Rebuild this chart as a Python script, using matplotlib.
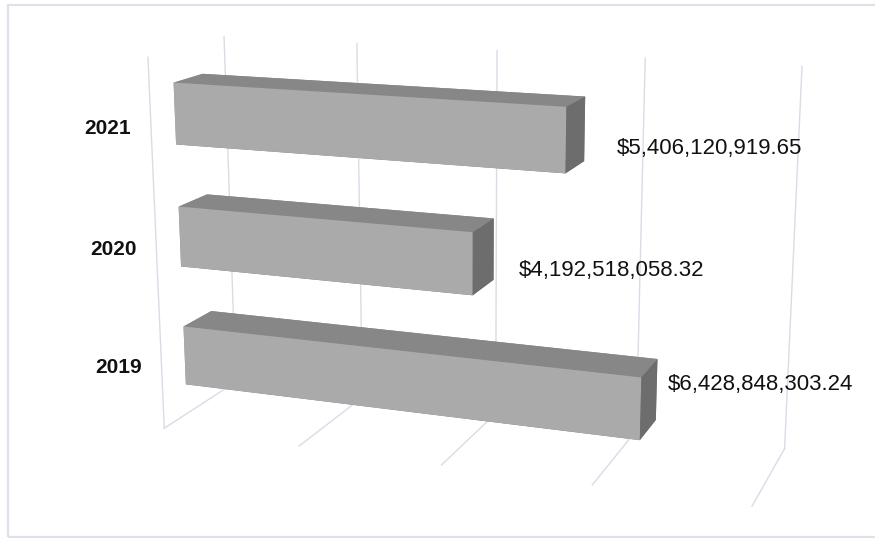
import numpy as np
import matplotlib
matplotlib.use("Agg")
import matplotlib.pyplot as plt
from matplotlib.patches import Rectangle
from matplotlib.transforms import offset_copy

years = ["2019", "2020", "2021"]
amounts = [6428848303.24, 4192518058.32, 5406120919.65]
amount_labels = ["$6,428,848,303.24", "$4,192,518,058.32", "$5,406,120,919.65"]
value_ticks = [0, 2e9, 4e9, 6e9, 8e9]

# camera / box setup for the 3-D bar look
ELEV, AZIM, FOCAL = 14.47, -69.92, 0.3231
BOX = (1, 0.2617, 0.6282)
ZOOM = 0.6918
BAR_FRONT, BAR_BACK, BAR_HALF = 0.303, 0.686, 0.2473

# pixel nudges for the labels (dx, dy)
value_shift = [(27, 19), (46, -12), (51, -14)]
year_shift = [(-20, -4), (-20, -7), (-20, -12)]

grid_col = "#d8dce7"

fig = plt.figure(figsize=(8.75, 5.38), dpi=100)
ax = fig.add_subplot(projection="3d", computed_zorder=False)
ax.set_position([-0.0795, -0.4803, 1.2, 1.96])
ax.set_xlim(0, 8e9)
ax.set_ylim(0, 1)
ax.set_zlim(0, 3)
ax.view_init(ELEV, AZIM)
ax.set_proj_type("persp", focal_length=FOCAL)
ax.set_box_aspect(BOX, zoom=ZOOM)
ax.set_axis_off()

# gridlines on the back wall and the floor
for v in value_ticks:
    ax.plot([v, v], [1, 1], [0, 3], color=grid_col, lw=1, zorder=1)
    ax.plot([v, v], [0, 1], [0, 0], color=grid_col, lw=1, zorder=1)
ax.plot([0, 0], [0, 0], [0, 3], color=grid_col, lw=1, zorder=1)

n = len(amounts)
pos = np.arange(n) + 0.5
# faces: bottom, top, front, back, left, right
face = ["#7a7a7a", "#878787", "#aaaaaa", "#8a8a8a", "#9a9a9a", "#6d6d6d"]
ax.bar3d(np.zeros(n), np.full(n, BAR_FRONT), pos - BAR_HALF, amounts,
         np.full(n, BAR_BACK - BAR_FRONT), np.full(n, 2 * BAR_HALF),
         color=face * n, shade=False, zorder=3)

for i in range(n):
    dx, dy = value_shift[i]
    tr = offset_copy(ax.transData, fig=fig, x=dx, y=dy, units="dots")
    ax.text(amounts[i], BAR_FRONT, pos[i], amount_labels[i], transform=tr,
            ha="left", va="baseline", fontsize=16, color="#111111",
            family="Liberation Sans")
    dx, dy = year_shift[i]
    tr = offset_copy(ax.transData, fig=fig, x=dx, y=dy, units="dots")
    ax.text(0, 0, pos[i], years[i], transform=tr, ha="right", va="baseline",
            fontsize=15, fontweight="bold", color="#111111", family="Liberation Sans")

fig.add_artist(Rectangle((8 / 875, 1 / 538), 1.0, 532 / 538, transform=fig.transFigure,
                         fill=False, ec="#dde1e9", lw=1.6))

fig.savefig("out.png", dpi=100)
